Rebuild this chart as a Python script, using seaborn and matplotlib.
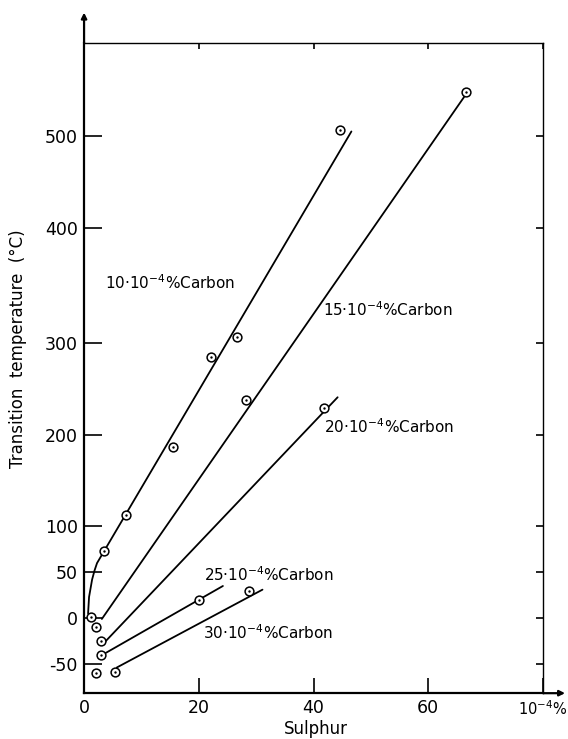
import numpy as np
import matplotlib
matplotlib.use("Agg")
import matplotlib.pyplot as plt
import seaborn as sns

# -----------------------
# data
# -----------------------
sulphur_10 = [1.2, 3.5, 7.3, 15.5, 22.1, 26.6, 44.7]
temp_10 = [1, 73, 112, 187, 285, 305, 507]
sulphur_15 = [2.1, 28.3, 66.6]
temp_15 = [-10, 238, 548]
sulphur_20 = [3.0, 41.9]
temp_20 = [-25, 229]
sulphur_25 = [3.0, 20.0]
temp_25 = [-40, 20]
sulphur_30 = [5.4, 28.7]
temp_30 = [-59, 30]
sulphur_extra = [2.1]
temp_extra = [-60]

# drawn trend lines
curve_10_x = [0.7, 0.87, 1.4, 1.83, 2.26, 46.6]
curve_10_y = [5, 23, 42, 52, 60, 505]
fit_15_x = [3.1, 66.3]
fit_15_y = [-1, 543]
fit_20_x = [3.65, 44.2]
fit_20_y = [-26, 241]
fit_25_x = [3.8, 24.2]
fit_25_y = [-38, 35]
fit_30_x = [5.7, 31.1]
fit_30_y = [-54, 31]

series_labels = ["10", "15", "20", "25", "30"]
label_x = [3.6, 41.6, 41.9, 20.9, 20.7]
label_y = [353, 329, 209, 47, -16]

x_ticks = [0, 20, 40, 60, 80]
x_tick_labels = ["0", "20", "40", "60", "10$^{-4}$%"]
y_ticks = [-50, 0, 50, 100, 200, 300, 400, 500]

# the original y axis is not quite even between 300 and 400
y_knots = [-100, 300, 400, 700]
y_disp = [-100, 301, 427, 729]

sns.set_style("ticks")
plt.rcParams["font.family"] = ["DejaVu Sans"]
plt.rcParams["mathtext.fontset"] = "dejavusans"
plt.rcParams["axes.unicode_minus"] = False
for key in ["text.color", "axes.labelcolor", "xtick.color", "ytick.color",
            "axes.edgecolor"]:
    plt.rcParams[key] = "black"

fig = plt.figure(figsize=(5.68, 7.39), dpi=100)
ax = fig.add_axes([0.148, 0.062, 0.808, 0.8796])
ax.set_yscale("function", functions=(lambda v: np.interp(v, y_knots, y_disp),
                                     lambda d: np.interp(d, y_disp, y_knots)))

line_kw = dict(color="black", linewidth=1.3, sort=False, estimator=None, ax=ax)
sns.lineplot(x=curve_10_x, y=curve_10_y, **line_kw)
for fx, fy in [(fit_15_x, fit_15_y), (fit_20_x, fit_20_y),
               (fit_25_x, fit_25_y), (fit_30_x, fit_30_y)]:
    sns.lineplot(x=fx, y=fy, **line_kw)

all_x = sulphur_10 + sulphur_15 + sulphur_20 + sulphur_25 + sulphur_30 + sulphur_extra
all_y = temp_10 + temp_15 + temp_20 + temp_25 + temp_30 + temp_extra
sns.scatterplot(x=all_x, y=all_y, marker="o", s=40, facecolor="white",
                edgecolor="black", linewidth=1.1, zorder=3, ax=ax)
sns.scatterplot(x=all_x, y=all_y, marker="o", s=3, color="black",
                linewidth=0, zorder=4, ax=ax)

for lab, tx, ty in zip(series_labels, label_x, label_y):
    ax.text(tx, ty, lab + "·10$^{-4}$%Carbon", ha="left", va="center", fontsize=11)

ax.set_xlim(0, 80)
ax.set_ylim(-82, 601)
ax.set_xticks(x_ticks)
ax.set_xticklabels(x_tick_labels)
ax.set_yticks(y_ticks)
ax.set_yticklabels([str(t) for t in y_ticks])
ax.tick_params(axis="both", labelsize=12.5, direction="in", width=1.2, color="black")
ax.tick_params(axis="y", left=True, right=True, length=13, pad=4.5)
ax.tick_params(axis="x", bottom=True, top=True, length=11, pad=4.5)
ax.get_xticklabels()[-1].set_fontsize(10.5)

# short ticks on the top and right frame
for t in ax.yaxis.get_major_ticks():
    t.tick2line.set_markersize(5)
for t in ax.xaxis.get_major_ticks():
    t.tick2line.set_markersize(4)

for side in ["left", "bottom"]:
    ax.spines[side].set_linewidth(1.6)
for side in ["top", "right"]:
    ax.spines[side].set_linewidth(1.0)

ax.set_xlabel("Sulphur", fontsize=12)
ax.set_ylabel("Transition  temperature  (°C)", fontsize=12)
ax.xaxis.set_label_coords(0.505, -0.042)
ax.yaxis.set_label_coords(-0.125, 0.53)

# axis arrows
ax.annotate("", xy=(0, 1.047), xytext=(0, 1.0), xycoords="axes fraction",
            arrowprops=dict(arrowstyle="-|>", color="black", lw=1.6,
                            mutation_scale=8, shrinkA=0, shrinkB=0),
            annotation_clip=False)
ax.annotate("", xy=(1.048, 0), xytext=(1.0, 0), xycoords="axes fraction",
            arrowprops=dict(arrowstyle="-|>", color="black", lw=1.6,
                            mutation_scale=8, shrinkA=0, shrinkB=0),
            annotation_clip=False)

fig.savefig("out.png", dpi=100)
